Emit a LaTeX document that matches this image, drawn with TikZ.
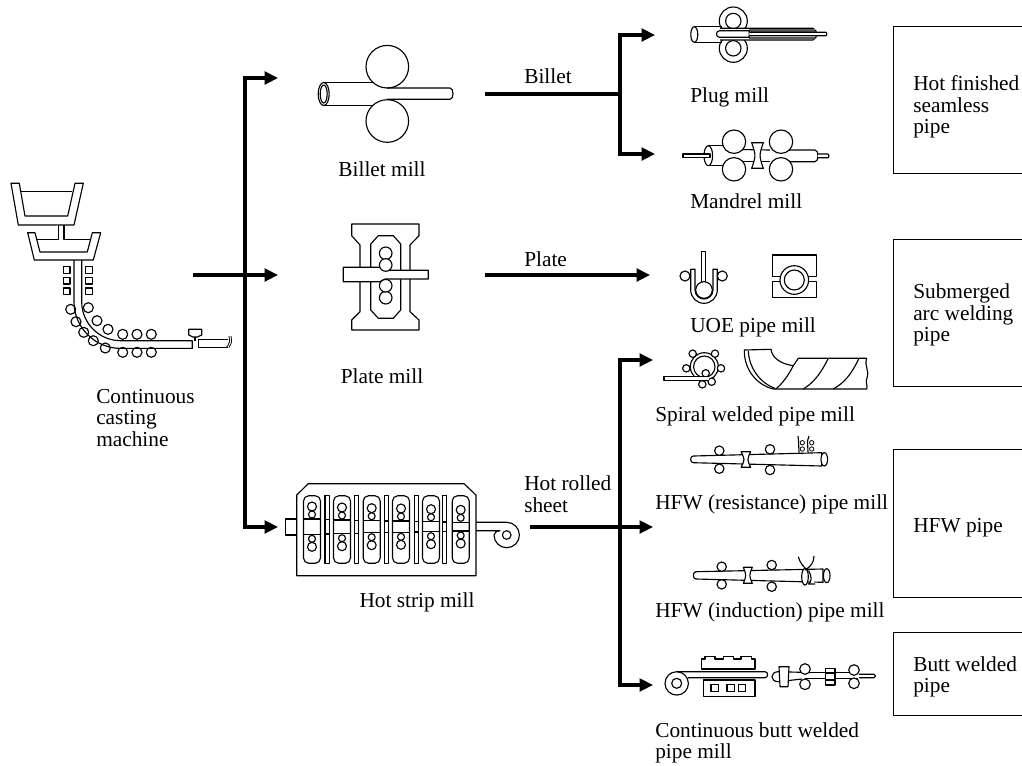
\documentclass[tikz,border=0pt]{standalone}
\usepackage{fontspec}
\setmainfont{Liberation Serif}
\usetikzlibrary{arrows.meta, positioning}

\begin{document}
\begin{tikzpicture}[
  x=0.75pt, y=-0.75pt,
  font=\fontsize{16}{16.1}\selectfont,
  art/.style={draw=black, line width=0.85pt, fill=white, line join=round},
  thin art/.style={draw=black, line width=0.6pt},
  trunk/.style={draw=black, line width=2.3pt},
  feed/.style={draw=black, line width=2.3pt, -{Triangle[length=10pt,width=9.5pt]}},
  caption/.style={inner sep=0pt, align=left, anchor=west},
  centred/.style={inner sep=0pt, align=center},
  product/.style={draw=black, line width=0.85pt, anchor=north west, minimum width=108pt}
]
\useasboundingbox (0,0) rectangle (1022,765);

% continuous caster
\draw[art] (11,183.3) -- (18.3,225) -- (74,225) -- (83.3,183.3) -- (75,183.3) -- (67.7,216) -- (25,216) -- (19.3,183.3) -- cycle;
\draw[art] (20.7,191.7) -- (72.3,191.7);
\draw[art] (35.7,239.3) -- (58.3,239.3) -- (58.3,225);
\draw[art] (64,225) -- (64,239.3) -- (90.7,239.3);
\draw[art] (27.7,232.7) -- (34.3,260) -- (93.3,260) -- (100.7,232.7) -- (92.3,232.7) -- (87.3,252) -- (40,252) -- (35,232.7) -- cycle;
\foreach \sy in {266.7,277.3,288} {
  \draw[art] (63.3,\sy) rectangle (70,\sy+6.7);
  \draw[art] (85.7,\sy) rectangle (92.3,\sy+6.7);
}
\draw[art, fill=none] (74,260) -- (74,301.7) .. controls (74,327.5) and (95,348.4) .. (120.7,348.4) -- (192.3,348.4) -- (192.3,340.7) -- (120.7,340.7)
  .. controls (99.2,340.7) and (81.7,323.2) .. (81.7,301.7) -- (81.7,260);
\foreach \rx/\ry in {70.7/309.3,76/321.7,83.7/332.3,93.3/340.7,105.3/348,122.7/352.3,137/352.3,151.3/352.3,
                     88.3/307.7,97/320.7,108/329.3,122.7/334.3,137/334.3,151.3/334.3}
  \draw[art, fill=none] (\rx,\ry) circle[radius=5];
\draw[art] (228,339.3) -- (198.3,339.3) -- (198.3,347.3) -- (228,347.3);
\draw[thin art] (229,347.5) .. controls (232,342) .. (231,336);
\draw[thin art] (226.5,347.5) .. controls (230,342) .. (229,336);
\draw[art] (188.7,329.3) -- (201.7,329.3) -- (201.7,335) -- (197.3,337) -- (193,337) -- (188.7,335) -- cycle;
\draw[art] (195,337) -- (195,340.7);

% billet mill
\draw[art] (323.7,82.7) -- (375,82.7);
\draw[art] (323.7,105.3) -- (375,105.3);
\draw[art] (323.7,94) circle[x radius=5.5, y radius=11.5];
\draw[art] (323.7,94) circle[x radius=3.5, y radius=9];
\draw[art] (387.3,66.7) circle[radius=21.3];
\draw[art] (387.3,121) circle[radius=21.3];
\draw[art, fill=none] (387,88) -- (450,88) .. controls (454,88) and (454,99.3) .. (450,99.3) -- (387,99.3);

% plate mill
\draw[art] (351.7,224) -- (419,224) -- (419,235.7) -- (410,245) -- (410,311.7) -- (419,320) -- (419,330)
  -- (351.7,330) -- (351.7,320) -- (360,311.7) -- (360,245) -- (351.7,235.7) -- cycle;
\draw[art] (378.3,235.7) -- (393.3,235.7) -- (400.7,244) -- (400.7,310) -- (393.3,318.3) -- (378.3,318.3) -- (370.7,310) -- (370.7,244) -- cycle;
\draw[art] (385.7,253.3) circle[radius=6.3];
\draw[art] (385.7,297.7) circle[radius=6.3];
\draw[art] (343.3,267.3) -- (382,267.3) -- (390,270.3) -- (428.3,270.3) -- (428.3,279) -- (385,279) -- (380,281.7) -- (343.3,281.7) -- cycle;
\draw[art] (385.7,265) circle[radius=6.3];
\draw[art] (385.7,285.7) circle[radius=6.3];

% hot strip mill
\draw[art] (285.3,519) rectangle (296.7,535);
\draw[art] (296.7,495) -- (308.3,483.7) -- (464,483.7) -- (476,495) -- (476,575.7) -- (296.7,575.7) -- cycle;
\foreach \sx/\st/\sb in {312/519/534.3, 342/520/533.7, 371.7/520.7/532.7, 401/521/532.3, 431/521.7/531.7, 460.7/522.3/531} {
  \draw[art, rounded corners=4pt] (\sx-8.5,495.7) rectangle (\sx+8.5,563.3);
  \draw[art] (\sx-8.5,\st) -- (\sx+8.5,\st);
  \draw[art] (\sx-8.5,\sb) -- (\sx+8.5,\sb);
  \draw[art] (\sx,\st-12.5) circle[radius=4.5];
  \draw[art] (\sx,\st-4.5) circle[radius=3.5];
  \draw[art] (\sx,\sb+12.5) circle[radius=4.5];
  \draw[art] (\sx,\sb+4.5) circle[radius=3.5];
}
\foreach \bx/\st/\sb in {325/519.5/534, 354.7/520.5/533.2, 384.3/521/532.5, 414.3/521.5/532, 442.7/522/531.3} {
  \draw[art] (\bx,495.7) rectangle (\bx+4.2,563.3);
  \draw[art] (\bx,\st) -- (\bx+4.2,\st);
  \draw[art] (\bx,\sb) -- (\bx+4.2,\sb);
}
\draw[art, fill=none] (476,522.3) -- (506.7,522.3) arc (-90:180:12.7) .. controls (494,532.5) and (497,530.7) .. (500,530.7) -- (476,530.7);
\draw[art] (506.7,535) circle[radius=4.3];

% plug mill
\draw[art] (733.3,21) circle[radius=14];
\draw[art] (733.3,21) circle[radius=7.7];
\draw[art] (733.3,48.3) circle[radius=14];
\draw[art] (733.3,48.3) circle[radius=7.7];
\draw[art] (694.3,26.7) -- (722,26.7);
\draw[art] (694.3,42.3) -- (722,42.3);
\draw[art] (694.3,34.5) circle[x radius=3.5, y radius=7.8];
\draw[art] (720,28.3) -- (813,28.3) -- (816,31) -- (816,37.5) -- (813,40) -- (720,40);
\fill[black!65] (749.3,29) rectangle (815,31.5);
\fill[black!65] (749.3,37) rectangle (815,39.3);
\draw[art] (719.5,30.7) -- (749.3,30.7) -- (749.3,37.3) -- (719.5,37.3) .. controls (715.5,37.3) and (715.5,30.7) .. cycle;
\draw[art] (749.3,32.3) -- (826,32.3) -- (827,34) -- (826,35.7) -- (749.3,35.7);

% mandrel mill
\draw[art] (683,154) rectangle (705,157.4);
\draw[art] (708.3,145.7) -- (726,145.7);
\draw[art] (708.3,165.7) -- (726,165.7);
\draw[art] (708.3,155.7) circle[x radius=4.3, y radius=10];
\draw[art] (703,154) -- (710,154) -- (710,157.4) -- (703,157.4);
\draw[art] (740,149.5) -- (770,150);
\draw[art] (740,161.5) -- (770,161.5);
\draw[art] (778,150) -- (815,150) .. controls (819,150) and (819,161.7) .. (815,161.7) -- (778,161.7);
\draw[art] (818,154) -- (828,154) -- (829,155.8) -- (828,157.7) -- (818,157.7);
\foreach \rx/\ry in {734/141.7,734/169.3,781/141.7,781/169.3}
  \draw[art] (\rx,\ry) circle[radius=11.7];
\draw[art] (751.7,142.7) -- (763.3,142.7) .. controls (759,155.5) .. (763.3,168.3) -- (751.7,168.3) .. controls (756,155.5) .. cycle;

% UOE pipe mill
\draw[art] (690.7,269.3) -- (690.7,290) arc (180:0:13.3) -- (717.3,269.3) -- (713,269.3) -- (713,290) arc (0:180:9) -- (695,269.3) -- cycle;
\draw[art] (685,276) circle[radius=5];
\draw[art] (722.3,276) circle[radius=5];
\draw[art] (701.7,281.7) -- (701.7,251.7) -- (705.7,251.7) -- (705.7,281.7);
\draw[art] (704,290) circle[radius=8.3];
\draw[art] (781,276.7) -- (772.3,276.7) -- (772.3,255) -- (816.7,255) -- (816.7,276.7) -- (808,276.7);
\draw[art] (781,281.7) -- (772.3,281.7) -- (772.3,297.7) -- (816.7,297.7) -- (816.7,281.7) -- (808,281.7);
\draw[art] (794.3,280) circle[radius=14.3];
\draw[art] (794.3,280) circle[radius=10];

% spiral welded pipe mill
\draw[art] (704.3,366.7) circle[radius=14];
\draw[art] (704.3,366.7) circle[radius=10.7];
\foreach \rx/\ry in {692.7/353.7,715/353.7,686.3/368.3,721/368.3,705.7/373.3,702.3/384.3,711.7/381.7}
  \draw[art] (\rx,\ry) circle[radius=3.7];
\draw[art] (709,376.7) -- (664,376.7) -- (664,380.7) -- (709,380.7);
\draw[art] (744.3,350) -- (771,349.3) .. controls (772,358) and (781,364) .. (793.3,365.7) -- (798.3,358.3) -- (866.7,358.3)
  .. controls (864,366) and (870,372) .. (867,378) .. controls (865,382) and (868,386) .. (866.7,389) -- (773.3,389) .. controls (757,385) and (744,370) .. cycle;
\draw[art, fill=none] (748.3,350.7) .. controls (749,368) and (760,383) .. (775,388.3);
\draw[art, fill=none] (793.3,365.7) .. controls (788,376) and (782,384) .. (775.7,389);
\draw[art, fill=none] (828.3,358.3) .. controls (820,375) and (813,383) .. (803.3,389);
\draw[art, fill=none] (859,358.3) .. controls (851,375) and (844,383) .. (833.3,389);

% HFW resistance
\draw[art] (693.3,456) -- (821.7,452.7) -- (821.7,466) -- (693.3,462.7) .. controls (689.8,462.7) and (689.8,456) .. cycle;
\draw[art] (824.3,459.3) circle[x radius=3.3, y radius=6.7];
\draw[art] (719.3,450.7) circle[radius=4.7];
\draw[art] (719.3,468.7) circle[radius=4.7];
\draw[art] (770,449.3) circle[radius=4.7];
\draw[art] (770,470) circle[radius=4.7];
\draw[art] (741,451.7) -- (750.7,451.7) .. controls (747,459.5) .. (750.7,467.3) -- (741,467.3) .. controls (745,459.5) .. cycle;
\draw[art, fill=none] (799,452.5) -- (798.5,441) .. controls (798,438) .. (798,436);
\draw[art, fill=none] (808,452.3) -- (807.5,441) .. controls (808,438) .. (809,436);
\foreach \rx/\ry in {802.3/442.7,802.3/449,811.7/442.7,811.7/449}
  \draw[thin art, fill=white] (\rx,\ry) circle[radius=2.2];

% HFW induction
\draw[art] (696,571.7) -- (823,569) -- (823,582.3) -- (696,579) .. controls (692.5,579) and (692.5,571.7) .. cycle;
\draw[art] (826.7,575.7) circle[x radius=3.3, y radius=7];
\draw[art] (721.7,566.7) circle[radius=4.7];
\draw[art] (721.7,584.3) circle[radius=4.7];
\draw[art] (771.7,565) circle[radius=4.7];
\draw[art] (771.7,586.7) circle[radius=4.7];
\draw[art] (743.3,567.3) -- (752.3,567.3) .. controls (749,575.3) .. (752.3,583.3) -- (743.3,583.3) .. controls (746.5,575.3) .. cycle;
\draw[art] (805,576.7) circle[x radius=3.3, y radius=8.3];
\draw[art] (808.5,570.5) .. controls (812,576) and (812,582) .. (808.5,584) -- (815,584);
\draw[art, fill=none] (798.3,556.7) .. controls (800,563) and (804,568) .. (808,570);
\draw[art, fill=none] (814,556) .. controls (814,563) and (810,567) .. (805,570);

% continuous butt welded pipe mill
\draw[art, fill=none] (676.7,671.7) arc (-90:270:11.7);
\draw[art] (676.7,683.3) circle[radius=5];
\draw[art] (701.7,669) -- (701.7,659) -- (705,659) -- (705,656.7) -- (715,656.7) -- (715,659) -- (723.3,659) -- (723.3,656.7) -- (733.3,656.7)
  -- (733.3,659) -- (741,659) -- (741,656.7) -- (751.7,656.7) -- (751.7,659) -- (755,659) -- (755,669) -- cycle;
\draw[art] (703.3,680) rectangle (755,696.7);
\foreach \sx in {711,727,738.5}
  \draw[art] (\sx,684.3) rectangle (\sx+7.3,691.7);
\draw[art, fill=none] (676.7,671.7) -- (765,671.7) .. controls (768.5,671.7) and (768.5,677.7) .. (765,677.7) -- (688,677.7);
\draw[art, fill=none] (802,672.3) -- (778,671.7) .. controls (770,672) and (770,681.5) .. (778,681.7) -- (802,679);
\draw[art] (779,666.7) -- (789,666.7) -- (788,686.7) -- (780,686.7) -- cycle;
\draw[art, fill=none] (805,672.3) -- (858,672.3);
\draw[art, fill=none] (805,678.3) -- (858,678.3);
\draw[art] (825.7,668.3) rectangle (835,685);
\draw[art] (825.7,673) -- (835,673);
\draw[art] (825.7,680) -- (835,680);
\draw[art] (805,669) circle[radius=5.3];
\draw[art] (805,684.3) circle[radius=5.3];
\draw[art] (854,670) circle[radius=5.3];
\draw[art] (854,683.3) circle[radius=5.3];
\draw[art] (859,674.3) -- (874,674.3) -- (875.5,676) -- (874,677.7) -- (859,677.7);

% captions
\node[caption] (castcap) at (96,418) {Continuous\\casting\\machine};
\node[centred] (billetcap) at (382,169) {Billet mill};
\node[centred] (platecap) at (382,376) {Plate mill};
\node[centred] (stripcap) at (417,602) {Hot strip mill};
\node[caption] (billetlbl) at (524,76) {Billet};
\node[caption] (platelbl) at (524,259) {Plate};
\node[caption] (sheetlbl) at (524,494) {Hot rolled\\sheet};
\node[caption] (plugcap) at (690,97) {Plug mill};
\node[caption] (mandrelcap) at (690,201) {Mandrel mill};
\node[caption] (uoecap) at (690,327) {UOE pipe mill};
\node[caption] (spiralcap) at (655,416) {Spiral welded pipe mill};
\node[caption] (resistcap) at (655,504) {HFW (resistance) pipe mill};
\node[caption] (inductcap) at (655,612) {HFW (induction) pipe mill};
\node[caption] (buttcap) at (655,743) {Continuous butt welded\\pipe mill};

% products
\node[product, minimum height=110.3pt] (seamless) at (893,26) {};
\node[product, minimum height=110.3pt] (saw) at (893,239) {};
\node[product, minimum height=111pt] (hfw) at (893,449) {};
\node[product, minimum height=62.3pt] (buttpipe) at (893,632) {};
\node[caption] (seamlesstxt) at (913,107) {Hot finished\\seamless\\pipe};
\node[caption] (sawtxt) at (913,315) {Submerged\\arc welding\\pipe};
\node[caption] (hfwtxt) at (913,528) {HFW pipe};
\node[caption] (butttxt) at (913,677) {Butt welded\\pipe};

% flow lines
\coordinate (castout) at (193,275);
\coordinate (castjoin) at (245,275);
\coordinate (billetin) at (278,78);
\coordinate (platein) at (278,275);
\coordinate (stripin) at (278,527);
\coordinate (billettop) at (245,78);
\coordinate (stripbot) at (245,527);
\coordinate (billetout) at (485,94);
\coordinate (billetjoin) at (620,94);
\coordinate (plugtop) at (620,35);
\coordinate (mandrelbot) at (620,154);
\coordinate (plugin) at (655,35);
\coordinate (mandrelin) at (655,154);
\coordinate (plateout) at (485,275);
\coordinate (uoein) at (650,275);
\coordinate (stripout) at (530,527);
\coordinate (stripjoin) at (620,527);
\coordinate (spiraltop) at (620,360);
\coordinate (buttbot) at (620,685);
\coordinate (spiralin) at (653,360);
\coordinate (hfwin) at (653,527);
\coordinate (buttin) at (653,685);

\draw[trunk, line cap=rect] (billettop) -- (stripbot);
\draw[trunk] (castout) -- (castjoin);
\draw[feed] (castjoin) -- (platein);
\draw[feed] (billettop) -- (billetin);
\draw[feed] (stripbot) -- (stripin);
\draw[trunk] (billetout) -- (billetjoin);
\draw[trunk, line cap=rect] (plugtop) -- (mandrelbot);
\draw[feed] (plugtop) -- (plugin);
\draw[feed] (mandrelbot) -- (mandrelin);
\draw[feed] (plateout) -- (uoein);
\draw[trunk, line cap=rect] (spiraltop) -- (buttbot);
\draw[trunk] (stripout) -- (stripjoin);
\draw[feed] (stripjoin) -- (hfwin);
\draw[feed] (spiraltop) -- (spiralin);
\draw[feed] (buttbot) -- (buttin);

\end{tikzpicture}
\end{document}
